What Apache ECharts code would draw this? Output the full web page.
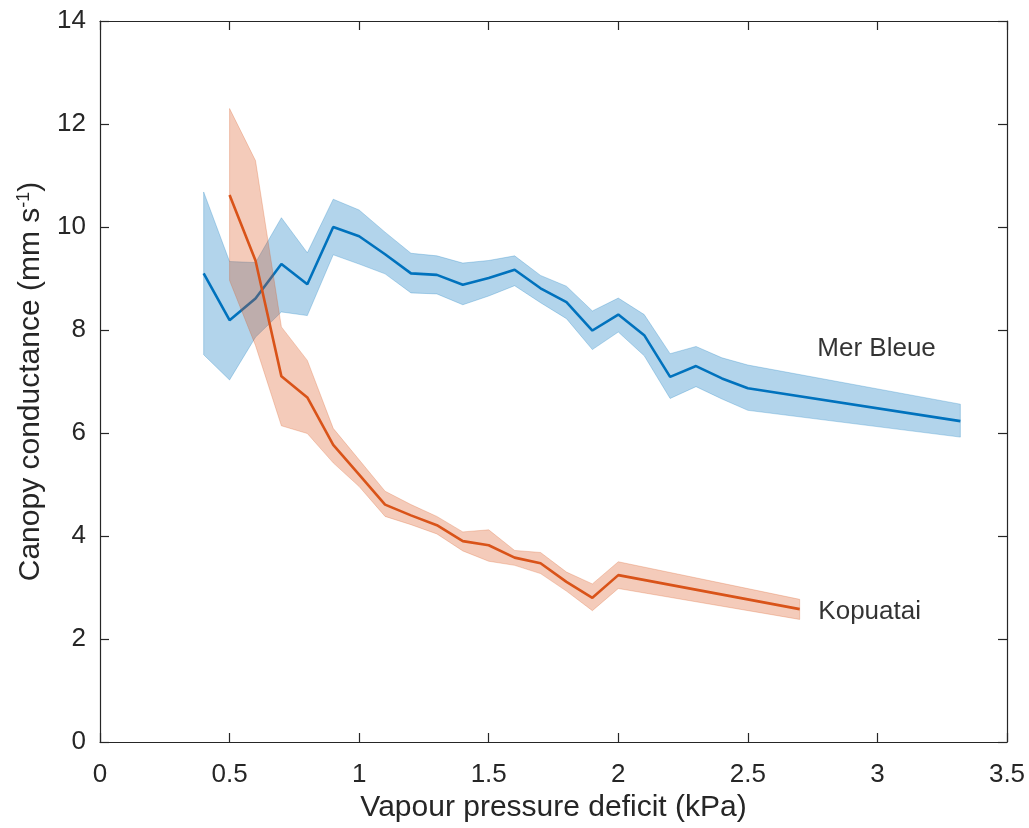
<!DOCTYPE html>
<html>
<head>
<meta charset="utf-8">
<script src="https://cdn.jsdelivr.net/npm/echarts@6/dist/echarts.min.js"></script>
<style>
html,body{margin:0;padding:0;background:#fff;}
#chart{width:1029px;height:828px;}
</style>
</head>
<body>
<div id="chart"></div>
<script>
// ---- Data ----
const merX     = [0.4, 0.5, 0.6, 0.7, 0.8, 0.9, 1.0, 1.1, 1.2, 1.3, 1.4, 1.5, 1.6, 1.7, 1.8, 1.9, 2.0, 2.1, 2.2, 2.3, 2.4, 2.5, 3.32];
const merMean  = [9.10, 8.19, 8.61, 9.28, 8.89, 10.00, 9.82, 9.47, 9.10, 9.07, 8.88, 9.01, 9.17, 8.81, 8.54, 7.99, 8.30, 7.90, 7.09, 7.30, 7.06, 6.87, 6.23];
const merUpper = [10.68, 9.33, 9.31, 10.18, 9.50, 10.54, 10.33, 9.90, 9.49, 9.44, 9.30, 9.35, 9.44, 9.06, 8.85, 8.37, 8.62, 8.30, 7.54, 7.68, 7.46, 7.32, 6.56];
const merLower = [7.52, 7.03, 7.86, 8.35, 8.28, 9.46, 9.28, 9.09, 8.72, 8.70, 8.49, 8.66, 8.86, 8.53, 8.22, 7.62, 7.96, 7.50, 6.67, 6.90, 6.66, 6.44, 5.92];

const kopX     = [0.5, 0.6, 0.7, 0.8, 0.9, 1.0, 1.1, 1.2, 1.3, 1.4, 1.5, 1.6, 1.7, 1.8, 1.9, 2.0, 2.7];
const kopMean  = [10.62, 9.35, 7.10, 6.69, 5.77, 5.19, 4.61, 4.40, 4.21, 3.90, 3.82, 3.58, 3.47, 3.11, 2.80, 3.24, 2.58];
const kopUpper = [12.30, 11.29, 8.06, 7.41, 6.09, 5.48, 4.87, 4.61, 4.38, 4.08, 4.12, 3.72, 3.68, 3.30, 3.07, 3.50, 2.77];
const kopLower = [8.96, 7.70, 6.14, 5.99, 5.42, 4.96, 4.38, 4.22, 4.04, 3.71, 3.51, 3.43, 3.27, 2.93, 2.55, 2.98, 2.38];

const siteNames = ['Mer Bleue', 'Kopuatai'];
const labelAnchors = [[2.768, 7.64], [2.772, 2.52]];

const xTitle = 'Vapour pressure deficit (kPa)';
const yTitle = 'Canopy conductance (mm s{sup|-1})';

// ---- Chart ----
const FONT = "'Liberation Sans', Arial, Helvetica, sans-serif";
const AX = '#262626';

function zip(xs, ys){ return xs.map((x,i)=>[x, ys[i]]); }

function band(xs, lo, hi, fill, edge, z){
  return {
    type: 'custom', coordinateSystem: 'cartesian2d', silent: true, z: z,
    data: [[xs[0], lo[0]]],
    renderItem: function(params, api){
      const pts = [];
      for (let i = 0; i < xs.length; i++) pts.push(api.coord([xs[i], hi[i]]));
      for (let i = xs.length - 1; i >= 0; i--) pts.push(api.coord([xs[i], lo[i]]));
      return { type: 'polygon', shape: { points: pts },
               style: { fill: fill, stroke: edge, lineWidth: 1 } };
    }
  };
}

function line(xs, ys, color, z){
  return {
    type: 'line', data: zip(xs, ys), showSymbol: false, z: z, silent: true,
    lineStyle: { color: color, width: 2.6 }, itemStyle: { color: color }
  };
}

function axis(extra){
  return Object.assign({
    type: 'value', show: true,
    axisLine: { show: true, onZero: false, lineStyle: { color: AX, width: 1.2 } },
    axisTick: { show: true, inside: true, length: 9, lineStyle: { color: AX, width: 1.2 } },
    splitLine: { show: false }
  }, extra);
}

const chart = echarts.init(document.getElementById('chart'), null, { renderer: 'canvas' });

chart.setOption({
  animation: false,
  backgroundColor: '#ffffff',
  grid: { left: 100, right: 22, top: 21, bottom: 83, containLabel: false },
  xAxis: [
    axis({
      min: 0, max: 3.5, interval: 0.5, position: 'bottom',
      name: xTitle, nameLocation: 'middle', nameGap: 51,
      nameTextStyle: { fontFamily: FONT, fontSize: 30, color: AX },
      axisLabel: { fontFamily: FONT, fontSize: 26, color: AX, margin: 20 }
    }),
    axis({
      min: 0, max: 3.5, interval: 0.5, position: 'top',
      axisLabel: { show: false }
    })
  ],
  yAxis: [
    axis({
      min: 0, max: 14, interval: 2, position: 'left',
      name: yTitle, nameLocation: 'middle', nameGap: 47, nameRotate: 90,
      nameTextStyle: { fontFamily: FONT, fontSize: 30, color: AX,
        rich: { sup: { fontFamily: FONT, fontSize: 18, color: AX, verticalAlign: 'top', padding: [0,0,14,0] } } },
      axisLabel: { fontFamily: FONT, fontSize: 26, color: AX, margin: 14 }
    }),
    axis({
      min: 0, max: 14, interval: 2, position: 'right',
      axisLabel: { show: false }
    })
  ],
  series: [
    band(merX, merLower, merUpper, 'rgba(0,114,189,0.3)', 'rgba(0,114,189,0.25)', 1),
    line(merX, merMean, '#0072BD', 2),
    band(kopX, kopLower, kopUpper, 'rgba(217,83,25,0.3)', 'rgba(217,83,25,0.25)', 3),
    line(kopX, kopMean, '#D95319', 4),
    {
      type: 'scatter', symbolSize: 0, silent: true, z: 5,
      xAxisIndex: 1, yAxisIndex: 1,
      data: labelAnchors.map((p, i) => ({ value: p, name: siteNames[i] })),
      label: { show: true, position: 'right', distance: 0, formatter: '{b}',
               fontFamily: FONT, fontSize: 26, color: '#000' }
    }
  ]
});
</script>
</body>
</html>
